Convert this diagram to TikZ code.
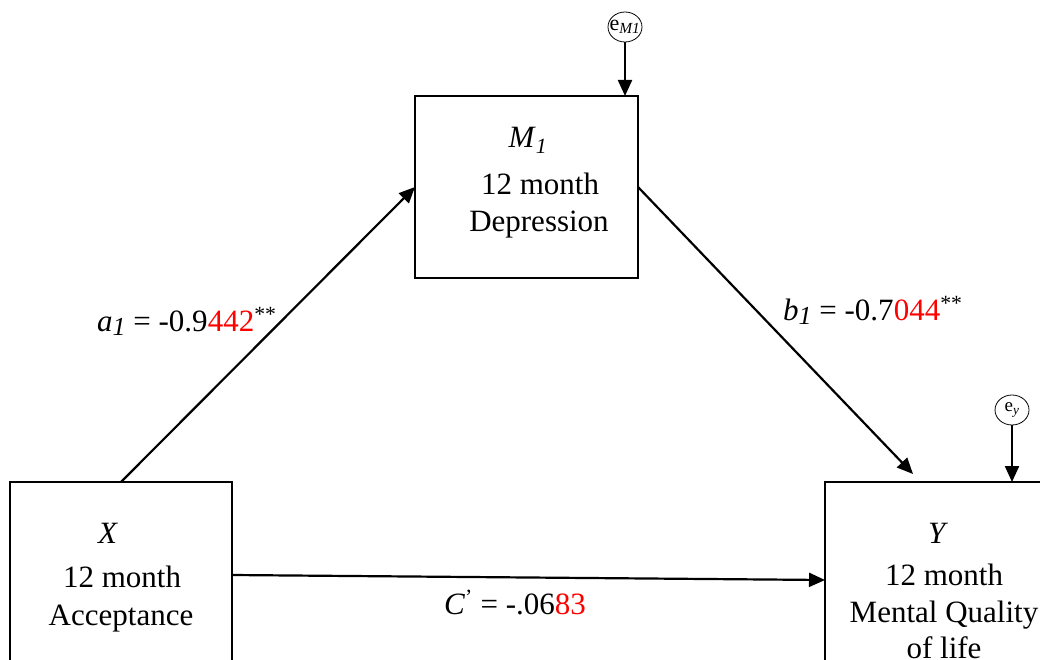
\documentclass[tikz,border=0pt]{standalone}
\usepackage{fontspec}
\setmainfont{Liberation Serif}
\usetikzlibrary{arrows.meta,shapes.geometric}
\newcommand\lowsub[1]{\raisebox{-0.14em}{\fontsize{26}{26}\selectfont\textit{#1}}}
\begin{document}
\begin{tikzpicture}[x=1pt,y=-1pt,
  box/.style={draw, line width=2.8pt, rectangle, inner sep=0pt, outer sep=0pt},
  txt/.style={anchor=base, inner sep=0pt, font=\fontsize{31}{37}\selectfont},
  lbl/.style={anchor=base west, inner sep=0pt, font=\fontsize{31}{37}\selectfont},
  arr/.style={line width=2.2pt, -{Triangle[length=16pt,width=14pt]}},
  err/.style={draw, ellipse, line width=0.8pt, minimum width=34pt, minimum height=30pt, inner xsep=-8pt, inner ysep=0pt}]
\useasboundingbox (0,0) rectangle (1040,660);
\fill[white] (0,0) rectangle (1040,660);
\clip (0,0) rectangle (1040,660);

% boxes
\node[box, minimum width=223pt, minimum height=182pt] (mbox) at (526.5,187) {};
\node[box, minimum width=222pt, minimum height=186pt] (xbox) at (121,575) {};
\node[box, minimum width=238pt, minimum height=196pt] (ybox) at (944,580) {};

% box texts
\node[txt] (mt1) at (528,148) {\textit{M}\textsubscript{\textit{1}}};
\node[txt] (mt2) at (540,195) {12 month};
\node[txt] (mt3) at (539,232) {Depression};

\node[txt] (xt1) at (108,543) {\textit{X}};
\node[txt] (xt2) at (122,587) {12 month};
\node[txt] (xt3) at (121,625) {Acceptance};

\node[txt] (yt1) at (938,543) {\textit{Y}};
\node[txt] (yt2) at (944,585) {12 month};
\node[txt] (yt3) at (944,622) {Mental Quality};
\node[txt] (yt4) at (944,658) {of life};

% error terms
\node[err] (em) at (625,27) {\fontsize{22}{22}\selectfont e\textsubscript{\textit{M1}}};
\node[err] (ey) at (1012,410) {\fontsize{19}{19}\selectfont e\textsubscript{\textit{y}}};

\coordinate (btip) at (913,474);

% connectors
\draw[arr] (em) -- (em |- mbox.north);
\draw[arr] (ey) -- (ey |- ybox.north);
\draw[arr] (xbox.north) -- (mbox.west);
\draw[arr] (mbox.east) -- (btip);
\draw[arr] (xbox.east) -- (ybox.west);

% labels
\node[lbl] (la) at (97,331) {\textit{a}\lowsub{1} = -0.9\textcolor{red}{442}\textsuperscript{**}};
\node[lbl] (lb) at (783,320) {\textit{b}\lowsub{1} = -0.7\textcolor{red}{044}\textsuperscript{**}};
\node[lbl] (lc) at (444,614) {\textit{C}\textsuperscript{'} = -.06\textcolor{red}{83}};
\end{tikzpicture}
\end{document}
